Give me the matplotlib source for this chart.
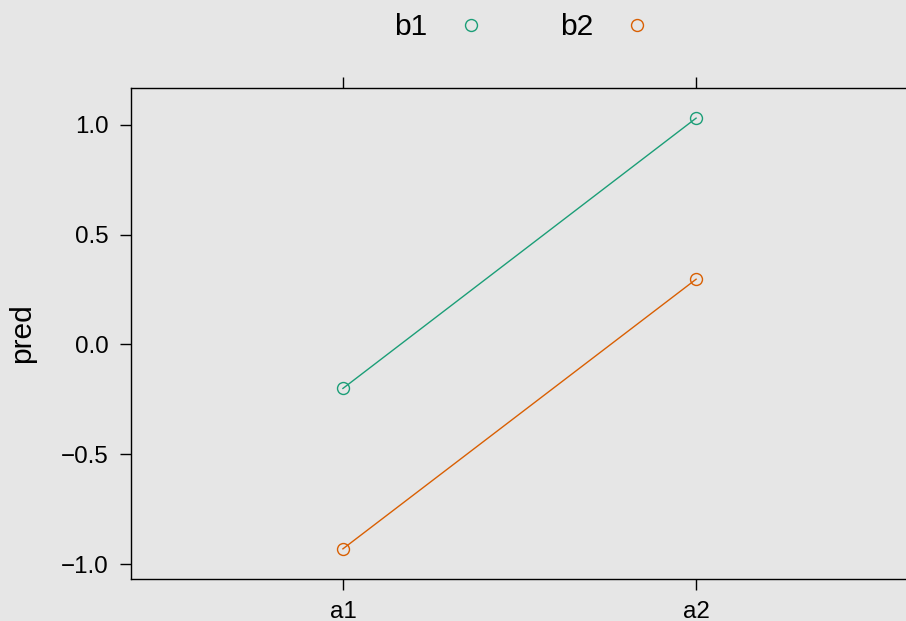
import matplotlib
matplotlib.use('Agg')
import matplotlib.pyplot as plt
from matplotlib.lines import Line2D

# data
levels = ['a1', 'a2']
groups = ['b1', 'b2']
pred_b1 = [-0.20, 1.03]
pred_b2 = [-0.93, 0.297]
colors = ['#1B9E77', '#D95F02']
yticks = [-1.0, -0.5, 0.0, 0.5, 1.0]

plt.rcParams['font.family'] = ['Liberation Sans', 'DejaVu Sans']
bg = '#E6E6E6'

fig = plt.figure(figsize=(9.06, 6.21), dpi=100, facecolor=bg)
ax = fig.add_axes([131/906, 42/621, 777/906, 491/621])
ax.set_facecolor(bg)

xs = range(1, len(levels) + 1)
for vals, col in zip([pred_b1, pred_b2], colors):
    ax.plot(xs, vals, color=col, lw=1.0, marker='o', markersize=8.6,
            markerfacecolor='none', markeredgecolor=col, markeredgewidth=1.0)

ax.set_xlim(0.4, 2.6)
lo = min(pred_b1 + pred_b2)
hi = max(pred_b1 + pred_b2)
pad = 0.07 * (hi - lo)
ax.set_ylim(lo - pad, hi + pad)

ax.set_xticks(list(xs))
ax.set_xticklabels(levels)
ax.set_yticks(yticks)
ax.set_yticklabels(['\u22121.0', '\u22120.5', '0.0', '0.5', '1.0'])
ax.tick_params(axis='both', direction='out', length=8, width=1.0,
               labelsize=17.4, pad=8, colors='black')
ax.tick_params(axis='x', top=True, labeltop=False)
ax.spines['right'].set_visible(False)
for s in ['left', 'top', 'bottom']:
    ax.spines[s].set_linewidth(1.0)

ax.set_ylabel('pred', fontsize=21.6, labelpad=18)

handles = [Line2D([], [], linestyle='none', marker='o', markersize=8.6,
                  markerfacecolor='none', markeredgecolor=c, markeredgewidth=1.0)
           for c in colors]
fig.legend(handles, groups, loc='center', bbox_to_anchor=(523/906, 1 - 27/621),
           ncol=2, frameon=False, fontsize=21.6, markerfirst=False,
           handlelength=1.0, handletextpad=0.95, columnspacing=2.5)

fig.savefig('out.png', dpi=100, facecolor=bg)
